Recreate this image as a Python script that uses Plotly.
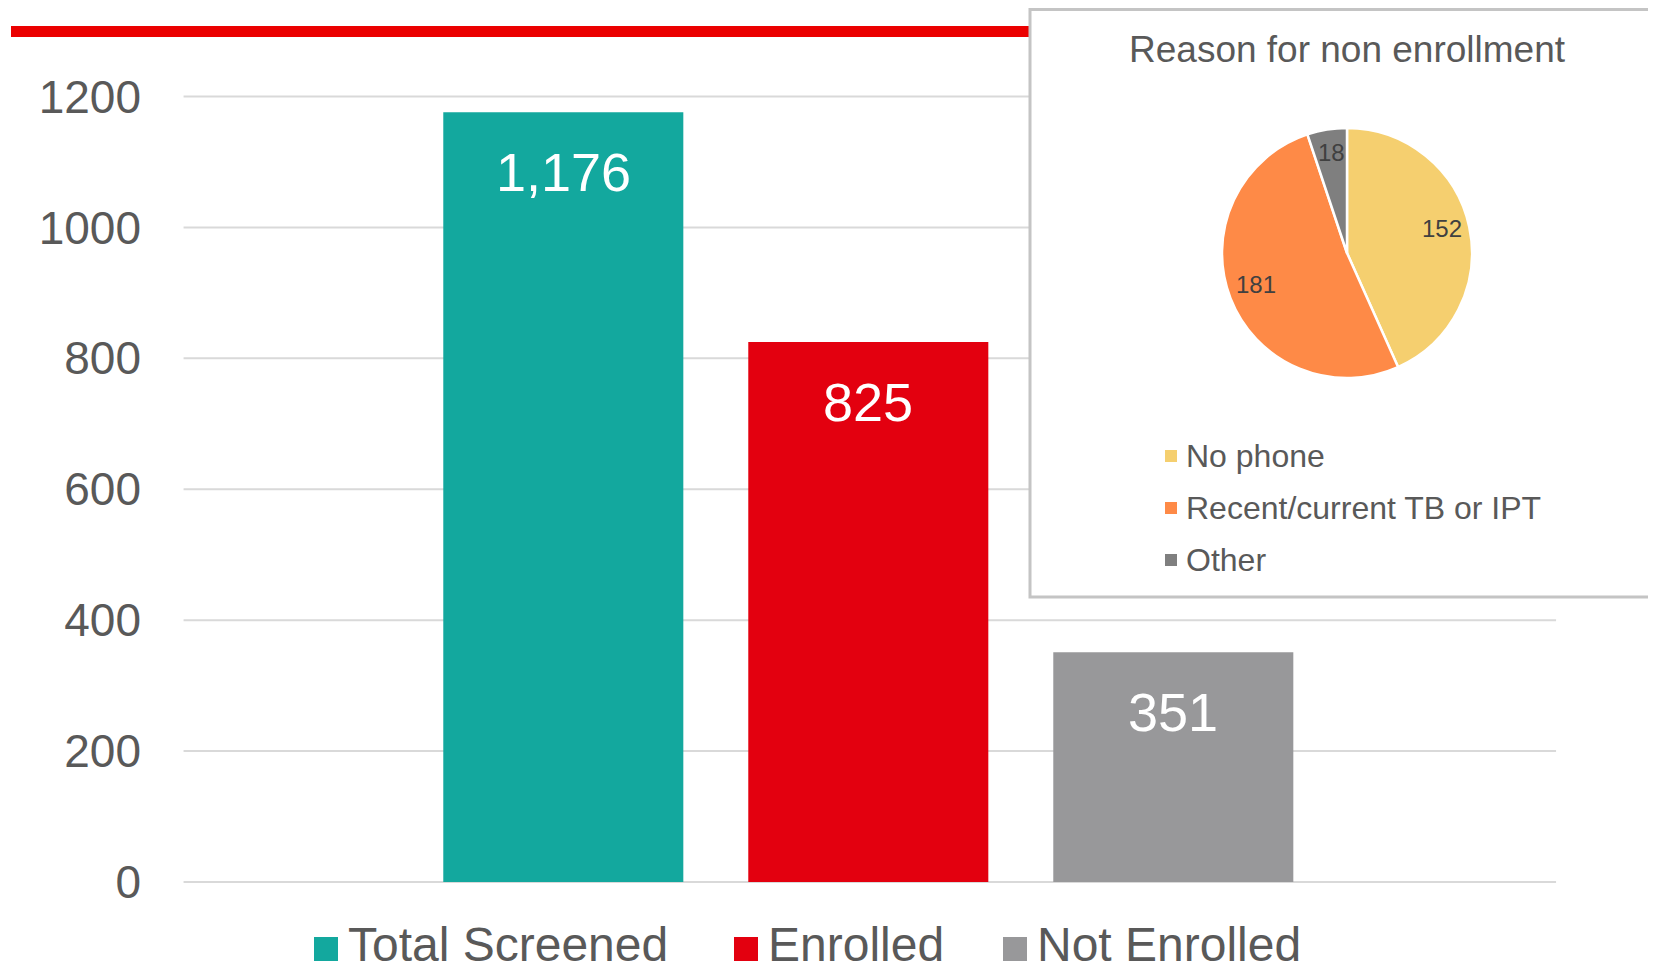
import math
import plotly.graph_objects as go

# main bar chart
categories = ["Total Screened", "Enrolled", "Not Enrolled"]
counts = [1176, 825, 351]
y_ticks = [0, 200, 400, 600, 800, 1000, 1200]

# inset pie
pie_title = "Reason for non enrollment"
reasons = ["No phone", "Recent/current TB or IPT", "Other"]
reason_counts = [152, 181, 18]

bar_colors = ["#13A89E", "#E3000F", "#98989A"]
pie_colors = ["#F5CF6F", "#FE8A47", "#7F7F7F"]
grey = "#595959"
FONT = "Liberation Sans, Arial, sans-serif"

# the page has an 8px body margin, so the figure is a bit smaller than the window
OFF = 8
W, H = 1656 - 2 * OFF, 980 - 2 * OFF

# page pixel layout of the bar plot
STEP = 305.0        # px per category
X0PX = 563.3        # page x of the first category centre
ZERO_PX = 882.0     # page y of value 0
K = (882.0 - 96.5) / 1200   # px per unit
GRID_X = [-1.245, 3.255]    # where the gridlines start and stop (category units)


def px(x):
    return (x - OFF) / W


def py(y):
    return 1 - (y - OFF) / H


def xd(x):
    return (x - X0PX) / STEP


def yd(y):
    return (ZERO_PX - y) / K


fig = go.Figure()

fig.add_trace(go.Bar(
    x=categories, y=counts, width=0.787,
    marker=dict(color=bar_colors, line=dict(width=0)),
    showlegend=False, hoverinfo="x+y",
))

annotations = []

# value labels inside the bars
for cat, v in zip(categories, counts):
    annotations.append(dict(x=cat, y=v, text=f"{v:,}", showarrow=False,
                            xanchor="center", yanchor="middle", yshift=-60,
                            font=dict(family=FONT, size=54, color="white")))

PIE_CX, PIE_CY, PIE_R = 1347, 253, 125
fig.add_trace(go.Pie(
    labels=reasons, values=reason_counts, sort=False, direction="clockwise",
    rotation=0, textinfo="none",
    marker=dict(colors=pie_colors, line=dict(color="white", width=2.5)),
    domain=dict(x=[px(PIE_CX - PIE_R), px(PIE_CX + PIE_R)],
                y=[py(PIE_CY + PIE_R), py(PIE_CY - PIE_R)]),
    showlegend=False,
))

# slice value labels, placed along each slice's bisector
total = sum(reason_counts)
cum = 0
for v in reason_counts:
    mid = (cum + v / 2) / total * 2 * math.pi
    cum += v
    lx = PIE_CX + 0.78 * PIE_R * math.sin(mid)
    ly = PIE_CY - 0.78 * PIE_R * math.cos(mid) - 4
    annotations.append(dict(xref="paper", yref="paper", x=px(lx), y=py(ly),
                            text=str(v), showarrow=False,
                            xanchor="center", yanchor="middle",
                            font=dict(family=FONT, size=24, color="#404040")))

shapes = []
# gridlines (drawn as shapes so the inset box can sit on top of them)
for t in y_ticks:
    shapes.append(dict(type="line", xref="x", yref="y", layer="below",
                       x0=GRID_X[0], x1=GRID_X[1], y0=t, y1=t,
                       line=dict(color="#D9D9D9", width=2)))
# red rule at the top (goes under the inset box)
shapes.append(dict(type="rect", xref="x", yref="y", layer="below",
                   x0=xd(11), x1=xd(1040), y0=yd(37), y1=yd(26),
                   fillcolor="#EB0000", line=dict(width=0)))
# inset box
shapes.append(dict(type="rect", xref="x", yref="y", layer="below",
                   x0=xd(1030), x1=xd(1664), y0=yd(597), y1=yd(9.5),
                   fillcolor="white", line=dict(color="#C4C4C4", width=3)))

# bottom legend for the bars
leg_sq = [314, 734, 1003]
for name, col, x0 in zip(categories, bar_colors, leg_sq):
    shapes.append(dict(type="rect", xref="paper", yref="paper", layer="above",
                       x0=px(x0), x1=px(x0 + 24), y0=py(961), y1=py(937),
                       fillcolor=col, line=dict(width=0)))
    annotations.append(dict(xref="paper", yref="paper", x=px(x0 + 32), y=py(944),
                            text=name, showarrow=False, xanchor="left", yanchor="middle",
                            font=dict(family=FONT, size=48, color=grey)))

# pie title
annotations.append(dict(xref="paper", yref="paper", x=px(PIE_CX), y=py(50),
                        text=pie_title, showarrow=False, xanchor="center", yanchor="middle",
                        font=dict(family=FONT, size=37, color=grey)))

# pie legend
for i, (name, col) in enumerate(zip(reasons, pie_colors)):
    yc = 456 + 52 * i
    shapes.append(dict(type="rect", xref="paper", yref="paper", layer="above",
                       x0=px(1165), x1=px(1177), y0=py(yc + 6), y1=py(yc - 6),
                       fillcolor=col, line=dict(width=0)))
    annotations.append(dict(xref="paper", yref="paper", x=px(1184), y=py(yc),
                            text=name, showarrow=False, xanchor="left", yanchor="middle",
                            font=dict(family=FONT, size=32, color=grey)))

fig.update_layout(
    width=W, height=H,
    margin=dict(l=0, r=0, t=0, b=0),
    paper_bgcolor="white", plot_bgcolor="white",
    font=dict(family=FONT, color=grey),
    shapes=shapes,
    annotations=annotations,
)

fig.update_xaxes(domain=[0, 1], range=[xd(OFF), xd(OFF + W)],
                 showticklabels=False, showgrid=False, zeroline=False, showline=False)
fig.update_yaxes(domain=[0, 1], range=[yd(OFF + H), yd(OFF)],
                 anchor="free", position=px(184),
                 tickvals=y_ticks, ticktext=[str(t) for t in y_ticks],
                 tickfont=dict(family=FONT, size=46, color=grey),
                 showgrid=False, zeroline=False, showline=False,
                 ticks="", ticklabelstandoff=43)

fig.write_html("out.html")
